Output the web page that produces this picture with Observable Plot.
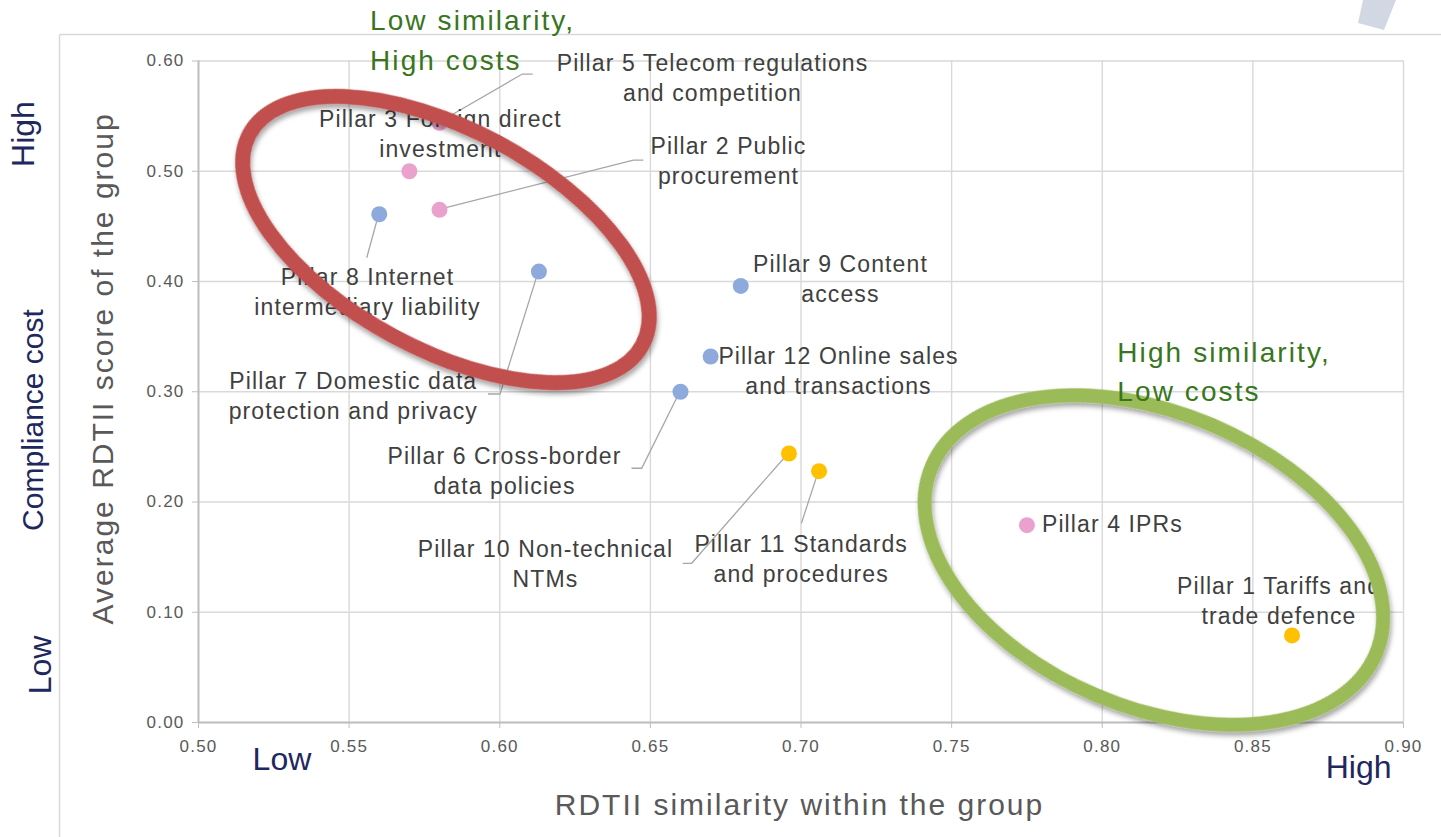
<!DOCTYPE html>
<html>
<head>
<meta charset="utf-8">
<script src="https://cdn.jsdelivr.net/npm/d3@7"></script>
<script src="https://cdn.jsdelivr.net/npm/@observablehq/plot@0.6"></script>
<style>
  html, body { margin: 0; padding: 0; background: #ffffff; }
  #chart { width: 1441px; height: 837px; overflow: hidden; position: relative; }
  #chart svg { display: block; }
</style>
</head>
<body>
<div id="chart"></div>
<script>
// ---------------- DATA ----------------
const pillarLabels = [
  "Pillar 1 Tariffs and\ntrade defence",
  "Pillar 2 Public\nprocurement",
  "Pillar 3 Foreign direct\ninvestment",
  "Pillar 4 IPRs",
  "Pillar 5 Telecom regulations\nand competition",
  "Pillar 6 Cross-border\ndata policies",
  "Pillar 7 Domestic data\nprotection and privacy",
  "Pillar 8 Internet\nintermediary liability",
  "Pillar 9 Content\naccess",
  "Pillar 10 Non-technical\nNTMs",
  "Pillar 11 Standards\nand procedures",
  "Pillar 12 Online sales\nand transactions"
];
const similarity = [0.863, 0.580, 0.570, 0.775, 0.580, 0.660, 0.613, 0.560, 0.680, 0.696, 0.706, 0.670];
const avgScore   = [0.079, 0.465, 0.500, 0.179, 0.544, 0.300, 0.409, 0.461, 0.396, 0.244, 0.228, 0.332];
const pillarGroup = ["Group C", "Group B", "Group B", "Group B", "Group B", "Group A",
                     "Group A", "Group A", "Group A", "Group C", "Group C", "Group A"];
const groupNames = ["Group A", "Group B", "Group C"];
const xTicks = [0.50, 0.55, 0.60, 0.65, 0.70, 0.75, 0.80, 0.85, 0.90];
const yTicks = [0.00, 0.10, 0.20, 0.30, 0.40, 0.50, 0.60];
const xTitle = "RDTII similarity within the group";
const yTitle = "Average RDTII score of the group";
const sideTitle = ["High", "Compliance cost", "Low"];
const xEnds = ["Low", "High"];
const zoneTitles = [["Low similarity,", "High costs"], ["High similarity,", "Low costs"]];
// zone centres (data units) for the highlight ellipses
const zoneCentreX = [0.5823, 0.8173];
const zoneCentreY = [0.4376, 0.1469];

// ---------------- STYLE / LAYOUT ----------------
const FONT = "'Liberation Sans', Arial, Helvetica, sans-serif";
const groupColors = ["#8EA9DB", "#EBA1CD", "#FFC000"];
const LABEL_FS = 23, LABEL_LH = 30;
const TICK_FS = 17;
// per-label placement (pixels relative to dot): dx, baseline dy, anchor, leader polyline
const labelLayout = [
  {dx: -13, bdy: -41.5, anchor: "middle", leader: null},
  {dx: 289, bdy: -56, anchor: "middle", leader: [[194.3, -49.3], [204.3, -49.3]]},
  {dx: 31, bdy: -44, anchor: "middle", leader: null},
  {dx: 15, bdy: 7, anchor: "start", leader: null},
  {dx: 273, bdy: -52.2, anchor: "middle", leader: [[83.4, -48.2], [93.7, -48.2]]},
  {dx: -176, bdy: 72, anchor: "middle", leader: [[-38.3, 77], [-48.5, 77]]},
  {dx: -185.6, bdy: 117.2, anchor: "middle", leader: [[-38.4, 122.9], [-50.4, 122.9]]},
  {dx: -11.8, bdy: 70.6, anchor: "middle", leader: [[-12, 44]]},
  {dx: 99.7, bdy: -13.7, anchor: "middle", leader: null},
  {dx: -243.5, bdy: 103.7, anchor: "middle", leader: [[-96.8, 110.3], [-105.8, 110.3]]},
  {dx: -17.9, bdy: 81.1, anchor: "middle", leader: [[-17.2, 52.7]]},
  {dx: 127.9, bdy: 7.3, anchor: "middle", leader: null}
];
const zoneStyle = [
  {rx: 223, ry: 110, angle: 28.2, stroke: "#C0504D", width: 15},
  {rx: 241, ry: 147, angle: 22.9, stroke: "#9BBB59", width: 14}
];

// ---------------- BUILD ----------------
const data = pillarLabels.map((label, i) => ({
  label, x: similarity[i], y: avgScore[i], group: pillarGroup[i], i
}));

const labelMarks = data.map((d, i) => {
  const L = labelLayout[i];
  return Plot.text([d], {
    x: "x", y: "y", text: "label",
    dx: L.dx, dy: L.bdy - 0.71 * LABEL_LH,
    textAnchor: L.anchor, lineAnchor: "top",
    lineHeight: LABEL_LH / LABEL_FS,
    fontSize: LABEL_FS, fill: "#404040"
  });
});

const plot = Plot.plot({
  width: 1441, height: 837,
  marginLeft: 198, marginRight: 38, marginTop: 60.5, marginBottom: 115,
  x: {domain: [0.5, 0.9]},
  y: {domain: [0, 0.6]},
  color: {domain: groupNames, range: groupColors},
  style: {fontFamily: FONT, background: "#ffffff", overflow: "visible"},
  marks: [
    Plot.gridX(xTicks, {stroke: "#D9D9D9", strokeOpacity: 1, strokeWidth: 1.4}),
    Plot.gridY(yTicks, {stroke: "#D9D9D9", strokeOpacity: 1, strokeWidth: 1.4}),
    Plot.ruleX([0.5], {stroke: "#BFBFBF", strokeWidth: 2}),
    Plot.ruleY([0], {stroke: "#BFBFBF", strokeWidth: 2}),
    Plot.axisX(xTicks, {tickFormat: d3.format(".2f"), tickSize: 6, tickPadding: 11,
      stroke: "#BFBFBF", fill: "#595959", fontSize: TICK_FS, label: null}),
    Plot.axisY(yTicks, {tickFormat: d3.format(".2f"), tickSize: 6, tickPadding: 8,
      stroke: "#BFBFBF", fill: "#595959", fontSize: TICK_FS, label: null}),
    Plot.dot(data, {x: "x", y: "y", fill: "group", r: 8}),
    ...labelMarks
  ]
});

document.getElementById("chart").appendChild(plot);

const svg = d3.select(plot);
const xs = plot.scale("x"), ys = plot.scale("y");

// enforce tick-label and data-label typography
const tickTexts = new Set([...xTicks, ...yTicks].map(d3.format(".2f")));
svg.selectAll("text").filter(function () { return tickTexts.has(this.textContent.trim()); })
  .style("font-size", TICK_FS + "px").style("letter-spacing", "1.2px").style("fill", "#595959");
svg.selectAll('g[aria-label="text"] text').style("letter-spacing", "1.1px");

// defs: drop shadow for the highlight ellipses
const defs = svg.append("defs");
const f = defs.append("filter").attr("id", "zoneShadow")
  .attr("x", "-10%").attr("y", "-10%").attr("width", "125%").attr("height", "130%");
f.append("feDropShadow").attr("dx", 3).attr("dy", 3).attr("stdDeviation", 2.5)
  .attr("flood-color", "#000").attr("flood-opacity", 0.35);

// outer chart frame + decorative corner shape (background)
const bg = svg.insert("g", ":first-child");
bg.append("line").attr("x1", 59.5).attr("x2", 1441).attr("y1", 34.5).attr("y2", 34.5)
  .attr("stroke", "#D9D9D9").attr("stroke-width", 1.5);
bg.append("line").attr("x1", 59.5).attr("x2", 59.5).attr("y1", 34.5).attr("y2", 837)
  .attr("stroke", "#D9D9D9").attr("stroke-width", 1.5);
bg.append("polygon").attr("points", "1363,0 1396,0 1384,30 1358,23").attr("fill", "#D1D7E3");

// leader lines, placed beneath dots
const leaders = svg.insert("g", 'g[aria-label="dot"]').attr("fill", "none")
  .attr("stroke", "#A6A6A6").attr("stroke-width", 1.3);
data.forEach((d, i) => {
  const L = labelLayout[i].leader;
  if (!L) return;
  const px = xs.apply(d.x), py = ys.apply(d.y);
  const pts = [[px, py], ...L.map(([ox, oy]) => [px + ox, py + oy])];
  leaders.append("path").attr("d", d3.line()(pts));
});

// highlight ellipses
const ann = svg.append("g");
zoneStyle.forEach((z, k) => {
  const cx = xs.apply(zoneCentreX[k]), cy = ys.apply(zoneCentreY[k]);
  ann.append("ellipse").attr("cx", cx).attr("cy", cy).attr("rx", z.rx).attr("ry", z.ry)
    .attr("transform", `rotate(${z.angle} ${cx} ${cy})`)
    .attr("fill", "none").attr("stroke", z.stroke).attr("stroke-width", z.width)
    .attr("filter", "url(#zoneShadow)");
});

// texts
const T = svg.append("g").attr("font-family", FONT).attr("text-anchor", "start");
// axis titles
T.append("text").attr("transform", "translate(113.3,368.4) rotate(-90)")
  .attr("text-anchor", "middle").attr("font-size", 30).attr("letter-spacing", "2px")
  .attr("fill", "#595959").text(yTitle);
T.append("text").attr("x", 799.5).attr("y", 815)
  .attr("text-anchor", "middle").attr("font-size", 30).attr("letter-spacing", "2px")
  .attr("fill", "#595959").text(xTitle);
// side (compliance cost) labels
const NAVY = "#1F285E";
[[34, 134, 32], [42.7, 420, 30], [51, 665, 32]].forEach(([bx, cy, fs], k) => {
  T.append("text").attr("transform", `translate(${bx},${cy}) rotate(-90)`)
    .attr("text-anchor", "middle").attr("font-size", fs).attr("fill", NAVY).text(sideTitle[k]);
});
T.append("text").attr("x", 252.6).attr("y", 770).attr("text-anchor", "start")
  .attr("font-size", 32).attr("fill", NAVY).text(xEnds[0]);
T.append("text").attr("x", 1325.7).attr("y", 778.3).attr("text-anchor", "start")
  .attr("font-size", 32).attr("fill", NAVY).text(xEnds[1]);
// zone titles
const GREEN = "#38761D";
[[370, 30, 70], [1117.3, 361.7, 400.7]].forEach(([x, b1, b2], k) => {
  [b1, b2].forEach((b, j) => {
    T.append("text").attr("x", x).attr("y", b).attr("text-anchor", "start").attr("font-size", 28)
      .attr("letter-spacing", "2.1px").attr("fill", GREEN).text(zoneTitles[k][j]);
  });
});
</script>
</body>
</html>
